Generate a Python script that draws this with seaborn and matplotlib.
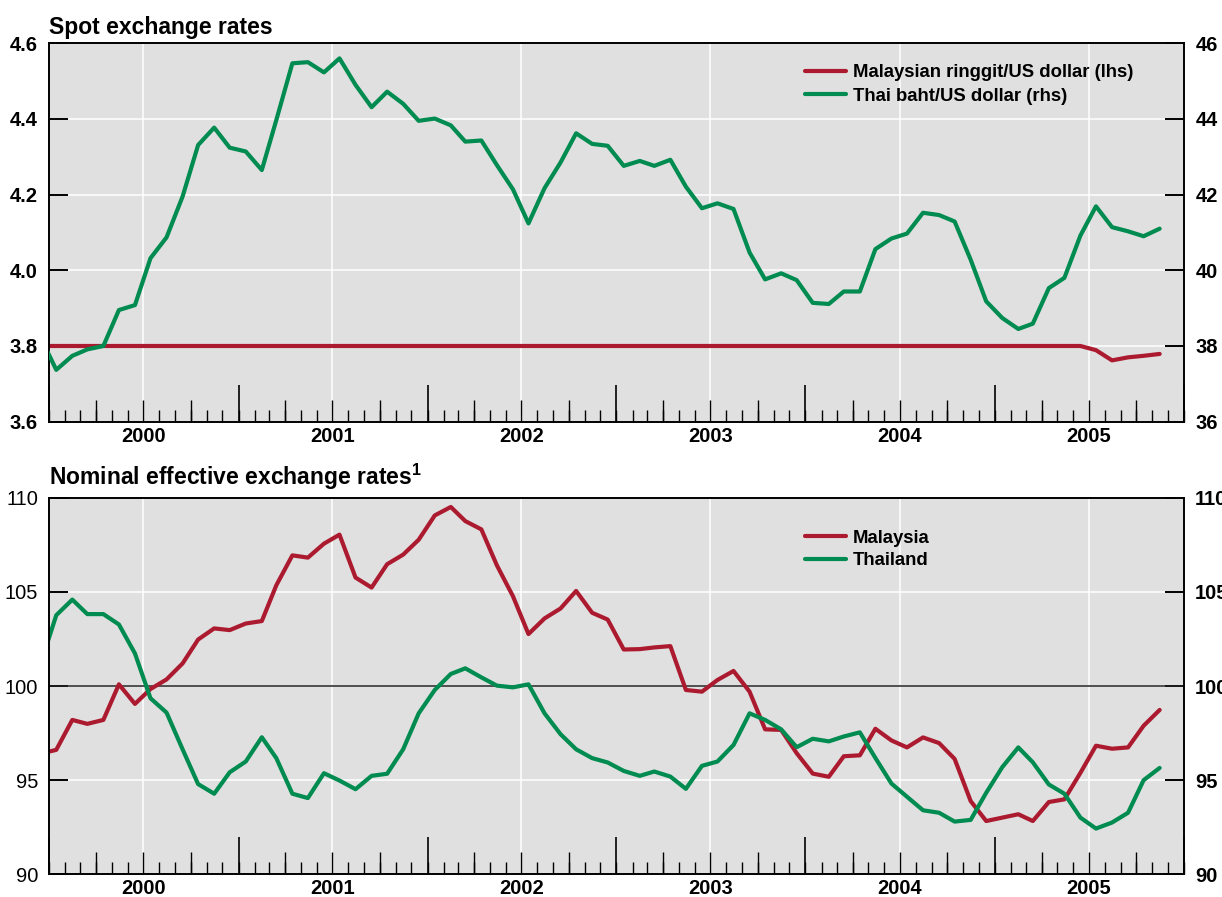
import numpy as np
import pandas as pd
import matplotlib
matplotlib.use("Agg")
import matplotlib.pyplot as plt
import matplotlib.dates as mdates
from matplotlib.lines import Line2D
import seaborn as sns

# ---------------- data (monthly averages, Dec 1999 - Nov 2005) ----------------
months = pd.date_range("1999-12-01", periods=72, freq="MS") + pd.Timedelta(days=14)

ringgit_usd = [3.80,
               3.80, 3.80, 3.80, 3.80, 3.80, 3.80, 3.80, 3.80, 3.80, 3.80, 3.80, 3.80,
               3.80, 3.80, 3.80, 3.80, 3.80, 3.80, 3.80, 3.80, 3.80, 3.80, 3.80, 3.80,
               3.80, 3.80, 3.80, 3.80, 3.80, 3.80, 3.80, 3.80, 3.80, 3.80, 3.80, 3.80,
               3.80, 3.80, 3.80, 3.80, 3.80, 3.80, 3.80, 3.80, 3.80, 3.80, 3.80, 3.80,
               3.80, 3.80, 3.80, 3.80, 3.80, 3.80, 3.80, 3.80, 3.80, 3.80, 3.80, 3.80,
               3.80, 3.80, 3.80, 3.80, 3.80, 3.80, 3.789, 3.762, 3.770, 3.774, 3.779]

baht_usd = [38.25,
            37.37, 37.74, 37.91, 38.00, 38.95, 39.08, 40.32, 40.87, 41.95, 43.31, 43.77, 43.24,
            43.14, 42.65, 43.97, 45.47, 45.50, 45.23, 45.60, 44.90, 44.31, 44.72, 44.40, 43.95,
            44.01, 43.83, 43.40, 43.43, 42.78, 42.14, 41.24, 42.17, 42.85, 43.62, 43.34, 43.29,
            42.76, 42.89, 42.76, 42.92, 42.21, 41.64, 41.77, 41.62, 40.47, 39.76, 39.92, 39.74,
            39.14, 39.11, 39.44, 39.44, 40.56, 40.84, 40.97, 41.52, 41.46, 41.29, 40.28, 39.18,
            38.74, 38.45, 38.59, 39.53, 39.80, 40.92, 41.69, 41.14, 41.03, 40.90, 41.10]

neer_malaysia = [96.40,
                 96.61, 98.20, 97.99, 98.20, 100.09, 99.05, 99.84, 100.35, 101.20, 102.47, 103.06, 102.97,
                 103.32, 103.45, 105.35, 106.94, 106.82, 107.56, 108.04, 105.76, 105.23, 106.47, 106.98, 107.77,
                 109.06, 109.51, 108.76, 108.32, 106.41, 104.77, 102.76, 103.59, 104.12, 105.05, 103.89, 103.53,
                 101.94, 101.96, 102.05, 102.12, 99.79, 99.70, 100.32, 100.80, 99.70, 97.70, 97.67, 96.43,
                 95.35, 95.18, 96.27, 96.32, 97.73, 97.11, 96.74, 97.27, 96.97, 96.13, 93.89, 92.83,
                 93.01, 93.19, 92.83, 93.84, 93.98, 95.39, 96.83, 96.67, 96.74, 97.89, 98.73]

neer_thailand = [101.10,
                 103.76, 104.59, 103.82, 103.82, 103.27, 101.73, 99.35, 98.59, 96.64, 94.79, 94.28, 95.42,
                 95.99, 97.28, 96.17, 94.28, 94.05, 95.37, 94.98, 94.52, 95.23, 95.34, 96.64, 98.55,
                 99.79, 100.64, 100.94, 100.46, 100.02, 99.93, 100.09, 98.55, 97.44, 96.64, 96.17, 95.94,
                 95.49, 95.23, 95.46, 95.19, 94.54, 95.76, 95.99, 96.87, 98.55, 98.20, 97.70, 96.75,
                 97.20, 97.06, 97.32, 97.54, 96.18, 94.82, 94.12, 93.40, 93.27, 92.80, 92.89, 94.33,
                 95.69, 96.74, 95.95, 94.77, 94.28, 93.01, 92.43, 92.75, 93.27, 95.00, 95.65]

spot_labels = ["Malaysian ringgit/US dollar (lhs)", "Thai baht/US dollar (rhs)"]
neer_labels = ["Malaysia", "Thailand"]
title_top = "Spot exchange rates"
title_bottom = "Nominal effective exchange rates$^{\\mathbf{1}}$"

# ---------------- style ----------------
RED = "#AC1A2F"
GREEN = "#008B50"
BG = "#E0E0E0"
LW = 3.0
TICKSIZE = 14.5

sns.set_style("white")
plt.rcParams["font.family"] = ["Liberation Sans", "DejaVu Sans"]
plt.rcParams["mathtext.fontset"] = "custom"
plt.rcParams["mathtext.bf"] = "Liberation Sans:bold"
plt.rcParams["mathtext.rm"] = "Liberation Sans"
plt.rcParams["text.color"] = "black"
plt.rcParams["axes.labelcolor"] = "black"
plt.rcParams["xtick.color"] = "black"
plt.rcParams["ytick.color"] = "black"
plt.rcParams["xtick.labelcolor"] = "black"
plt.rcParams["ytick.labelcolor"] = "black"

fig = plt.figure(figsize=(12.22, 8.97), dpi=100)
ax1 = fig.add_axes([0.0401, 0.5299, 0.9288, 0.4219])
ax2 = fig.add_axes([0.0401, 0.0253, 0.9288, 0.4198])

start, end = pd.Timestamp("2000-01-01"), pd.Timestamp("2006-01-01")


def style_x(ax):
    ax.set_facecolor(BG)
    ax.set_xlim(start, end)
    ax.xaxis.set_major_locator(mdates.MonthLocator(bymonth=7))
    ax.xaxis.set_major_formatter(mdates.DateFormatter("%Y"))
    ax.xaxis.set_minor_locator(mdates.MonthLocator())
    ax.tick_params(axis="x", which="major", direction="in", length=16, width=1,
                   pad=3.5, labelsize=TICKSIZE, bottom=True, top=False, color="black",
                   labelcolor="black")
    ax.tick_params(axis="x", which="minor", direction="in", length=8.3, width=1,
                   bottom=True, top=False, color="black")
    for lab in ax.get_xticklabels():
        lab.set_fontweight("bold")
    ax.grid(axis="x", which="major", color="white", lw=1.1)
    ax.grid(axis="y", which="major", color="white", lw=1.1)
    ax.set_axisbelow(True)
    for s in ax.spines.values():
        s.set_visible(True)
        s.set_color("black")
        s.set_linewidth(1.4)
    ax.set_xlabel("")
    ax.set_ylabel("")
    # extra tick levels: yearly (tall) and quarterly (medium)
    tw = ax.twiny()
    tw.set_xlim(ax.get_xlim())
    tw.xaxis.set_ticks_position("bottom")
    tw.xaxis.set_major_locator(mdates.MonthLocator(bymonth=1))
    tw.xaxis.set_minor_locator(mdates.MonthLocator(bymonth=[4, 10]))
    tw.tick_params(axis="x", which="major", direction="in", length=27, width=1.2,
                   labelbottom=False, labeltop=False, top=False, bottom=True, color="black")
    tw.tick_params(axis="x", which="minor", direction="in", length=16, width=1,
                   labelbottom=False, labeltop=False, top=False, bottom=True, color="black")
    for s in tw.spines.values():
        s.set_visible(False)
    return tw


# ---------------- top panel ----------------
df_top = pd.DataFrame({"date": months, "ringgit": ringgit_usd, "baht": baht_usd})
axr = ax1.twinx()
sns.lineplot(data=df_top, x="date", y="ringgit", ax=ax1, color=RED, lw=LW, legend=False)
sns.lineplot(data=df_top, x="date", y="baht", ax=axr, color=GREEN, lw=LW, legend=False)
style_x(ax1)
ax1.set_ylim(3.6, 4.6)
ax1.set_yticks(np.arange(3.6, 4.61, 0.2))
ax1.set_yticklabels([f"{v:.1f}" for v in np.arange(3.6, 4.61, 0.2)])
ax1.tick_params(axis="y", direction="in", length=14, width=1.4, pad=8, labelsize=TICKSIZE,
                left=True, right=False, color="black", labelcolor="black")
for lab in ax1.get_yticklabels():
    lab.set_fontweight("bold")
axr.set_xlim(start, end)
axr.set_ylim(36, 46)
axr.set_yticks(np.arange(36, 47, 2))
axr.tick_params(axis="y", direction="in", length=14, width=1.4, pad=8.5, labelsize=TICKSIZE,
                right=True, left=False, color="black", labelcolor="black")
for lab in axr.get_yticklabels():
    lab.set_fontweight("bold")
axr.set_ylabel("")
for s in axr.spines.values():
    s.set_visible(False)
ax1.set_title(title_top, loc="left", fontsize=16.5, fontweight="bold", pad=7, color="black")

h_top = [Line2D([], [], color=RED, lw=LW), Line2D([], [], color=GREEN, lw=LW)]
axr.legend(h_top, spot_labels, loc="upper left", bbox_to_anchor=(0.666, 0.945),
           frameon=False, prop={"weight": "bold", "size": 13.3}, handlelength=2.2,
           handletextpad=0.4, labelspacing=0.35, borderaxespad=0, borderpad=0,
           labelcolor="black")

# ---------------- bottom panel ----------------
df_bot = pd.DataFrame({"date": list(months) * 2,
                       "value": neer_malaysia + neer_thailand,
                       "country": [neer_labels[0]] * len(months) + [neer_labels[1]] * len(months)})
sns.lineplot(data=df_bot, x="date", y="value", hue="country", ax=ax2,
             palette={neer_labels[0]: RED, neer_labels[1]: GREEN}, lw=LW, legend=False)
style_x(ax2)
ax2.set_ylim(90, 110)
ax2.set_yticks(np.arange(90, 111, 5))
ax2.axhline(100, color="#222222", lw=1.1, zorder=1.5)
ax2.tick_params(axis="y", direction="in", length=14, width=1.4, pad=8, labelsize=TICKSIZE,
                left=True, right=True, labelleft=True, labelright=True, color="black",
                labelcolor="black")
for t in ax2.yaxis.get_major_ticks():
    t.label1.set_fontweight("normal")
    t.label2.set_fontweight("bold")
ax2.set_title(title_bottom, loc="left", fontsize=16.5, fontweight="bold", pad=9, color="black")

h_bot = [Line2D([], [], color=RED, lw=LW), Line2D([], [], color=GREEN, lw=LW)]
ax2.legend(h_bot, neer_labels, loc="upper left", bbox_to_anchor=(0.666, 0.915),
           frameon=False, prop={"weight": "bold", "size": 13.3}, handlelength=2.2,
           handletextpad=0.4, labelspacing=0.3, borderaxespad=0, borderpad=0,
           labelcolor="black")

fig.savefig("out.png", dpi=100)
